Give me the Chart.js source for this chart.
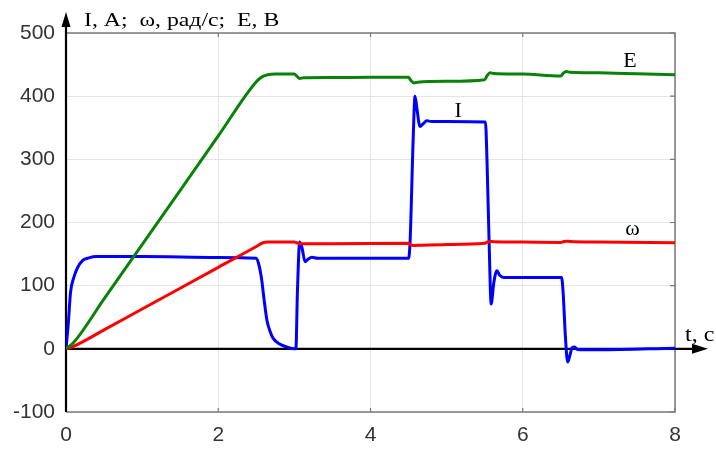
<!DOCTYPE html>
<html>
<head>
<meta charset="utf-8">
<script src="https://cdn.jsdelivr.net/npm/chart.js@4.4.1/dist/chart.umd.min.js"></script>
<style>
  body { margin: 0; background: #fff; }
  canvas { display: block; }
</style>
</head>
<body>
<canvas id="chart" width="716" height="449"></canvas>
<script>
// time values (s) and series
const tCurrent = [0, 0.03, 0.06, 0.1, 0.15, 0.22, 0.3, 0.4, 1.0, 2.0, 2.5, 2.53, 2.57, 2.6, 2.64, 2.68, 2.72, 2.8, 2.9, 3.0, 3.02,
    3.04, 3.07, 3.1, 3.14, 3.18, 3.23, 3.3, 4.0, 4.5, 4.52, 4.56, 4.585, 4.61, 4.65, 4.69, 4.74, 4.8, 5.0, 5.51,
    5.53, 5.56, 5.585, 5.62, 5.66, 5.7, 5.75, 6.0, 6.51, 6.53, 6.56, 6.59, 6.62, 6.65, 6.68, 6.72, 6.8, 7.0, 8.0];
const current = [0, 40, 90, 112, 128, 140, 144, 146, 146, 144.5, 143.5, 135, 110, 80, 45, 28, 17, 8, 3, 0, 0,
    90, 169, 160, 138, 142, 145, 143.5, 143.5, 143.5, 170, 330, 400, 380, 352, 356, 361, 360, 360, 359,
    300, 160, 71, 105, 123.5, 116, 113, 113, 113, 90, 20, -21, -10, 2, 3, -1, -1.5, -1.5, 1];

const tSpeed = [0, 0.1, 0.5, 1.0, 1.5, 2.0, 2.5, 2.58, 2.65, 3.0, 3.03, 3.07, 3.5, 4.5, 4.53, 4.57, 4.62, 5.0, 5.5, 5.53, 5.57, 5.62,
    6.0, 6.5, 6.53, 6.57, 6.62, 7.0, 8.0];
const speed = [0, 4, 30, 63, 96, 129, 162, 167.5, 169, 169, 168, 166.5, 166.5, 167, 165, 163.5, 164, 165, 167, 169, 170, 169.5,
    169, 168.5, 169.5, 170.5, 170, 169, 168];

const tEmf = [0, 0.1, 0.5, 1.0, 1.5, 2.0, 2.5, 2.58, 2.65, 2.75, 3.0, 3.03, 3.07, 3.12, 3.5, 4.0, 4.5, 4.53, 4.57, 4.62, 5.0, 5.5,
    5.53, 5.57, 5.62, 6.0, 6.5, 6.53, 6.57, 6.62, 7.0, 7.5, 8.0];
const emf = [0, 10, 79, 165, 251, 337, 423, 431, 434, 435, 435, 432, 428, 429, 429.5, 430, 430, 425, 421, 422, 423.5, 426,
    432, 437, 436, 435, 432, 436, 439, 438, 437, 435.5, 434];

const xTicks = [0, 2, 4, 6, 8];
const yTicks = [-100, 0, 100, 200, 300, 400, 500];

const axisTitle = 'I, А;  ω, рад/с;  E, В';
const timeTitle = 't, c';
// series name, label position in data units
const seriesLabels = [
    { text: 'E', x: 7.41, y: 446 },
    { text: 'I', x: 5.15, y: 367 },
    { text: 'ω', x: 7.44, y: 181 },
];

const toPoints = (ts, vs) => ts.map((t, i) => ({ x: t, y: vs[i] }));

const serif = '"Liberation Serif", "Times New Roman", serif';
const sans = '"Liberation Sans", Arial, sans-serif';

function stretchedText(ctx, text, x, y, sx) {
    ctx.save();
    ctx.translate(x, y);
    ctx.scale(sx, 1);
    ctx.fillText(text, 0, 0);
    ctx.restore();
}

const framePlugin = {
    id: 'frame',
    beforeDatasetsDraw(chart) {
        const { ctx, chartArea: a, scales } = chart;
        const xs = scales.x, ys = scales.y;
        ctx.save();
        // grey frame on top, right and bottom
        ctx.strokeStyle = '#7a7a7a';
        ctx.lineWidth = 1.5;
        ctx.beginPath();
        ctx.moveTo(a.left, a.top);
        ctx.lineTo(a.right, a.top);
        ctx.lineTo(a.right, a.bottom);
        ctx.lineTo(a.left, a.bottom);
        ctx.stroke();
        // inner tick marks
        ctx.lineWidth = 1.2;
        ctx.beginPath();
        xTicks.forEach(v => {
            if (v === 0) return;
            const px = xs.getPixelForValue(v);
            ctx.moveTo(px, a.bottom); ctx.lineTo(px, a.bottom - 4);
            ctx.moveTo(px, a.top); ctx.lineTo(px, a.top + 4);
        });
        yTicks.forEach(v => {
            const py = ys.getPixelForValue(v);
            ctx.moveTo(a.right, py); ctx.lineTo(a.right - 5, py);
        });
        ctx.stroke();

        // black axes with arrows
        ctx.strokeStyle = '#000';
        ctx.fillStyle = '#000';
        ctx.lineWidth = 2.2;
        const y0 = ys.getPixelForValue(0);
        ctx.beginPath();
        ctx.moveTo(a.left, a.bottom);
        ctx.lineTo(a.left, 22);
        ctx.moveTo(a.left, y0);
        ctx.lineTo(696, y0);
        ctx.stroke();
        ctx.beginPath();
        ctx.moveTo(a.left, 12);
        ctx.lineTo(a.left - 4.5, 27);
        ctx.lineTo(a.left + 4.5, 27);
        ctx.closePath();
        ctx.fill();
        ctx.beginPath();
        ctx.moveTo(708, y0);
        ctx.lineTo(692, y0 - 5);
        ctx.lineTo(692, y0 + 5);
        ctx.closePath();
        ctx.fill();
        ctx.restore();
    },
    afterDatasetsDraw(chart) {
        const { ctx, scales } = chart;
        ctx.save();
        ctx.fillStyle = '#000';
        ctx.textBaseline = 'alphabetic';
        ctx.textAlign = 'left';
        ctx.font = '19px ' + serif;
        stretchedText(ctx, axisTitle, 84, 26, 1.25);
        ctx.font = '20px ' + serif;
        stretchedText(ctx, timeTitle, 685, 341, 1.2);
        ctx.textAlign = 'center';
        ctx.font = '22px ' + serif;
        seriesLabels.forEach(l => {
            ctx.fillText(l.text, scales.x.getPixelForValue(l.x), scales.y.getPixelForValue(l.y));
        });
        ctx.restore();
    }
};

const lineStyle = {
    showLine: true,
    pointRadius: 0,
    borderWidth: 3,
    cubicInterpolationMode: 'monotone',
};

new Chart(document.getElementById('chart'), {
    type: 'scatter',
    data: {
        datasets: [
            { label: 'E', data: toPoints(tEmf, emf), borderColor: '#0a820a', ...lineStyle },
            { label: 'ω', data: toPoints(tSpeed, speed), borderColor: '#ff0000', ...lineStyle },
            { label: 'I', data: toPoints(tCurrent, current), borderColor: '#0000ff', ...lineStyle },
        ],
    },
    options: {
        responsive: false,
        animation: false,
        events: [],
        layout: { padding: { top: 33, right: 41, left: 0, bottom: 0 } },
        plugins: {
            legend: { display: false },
            tooltip: { enabled: false },
        },
        scales: {
            x: {
                type: 'linear',
                min: 0,
                max: 8,
                afterBuildTicks: (s) => { s.ticks = xTicks.map(v => ({ value: v })); },
                afterFit: (s) => { s.height = 37; },
                grid: { color: '#e4e4e4', lineWidth: 1, drawTicks: false },
                border: { display: false },
                ticks: { color: '#333', padding: 11, font: { family: sans, size: 21 } },
            },
            y: {
                type: 'linear',
                min: -100,
                max: 500,
                afterBuildTicks: (s) => { s.ticks = yTicks.map(v => ({ value: v })); },
                afterFit: (s) => { s.width = 66; },
                grid: { color: '#e4e4e4', lineWidth: 1, drawTicks: false },
                border: { display: false },
                ticks: { color: '#333', padding: 11, font: { family: sans, size: 21 } },
            },
        },
    },
    plugins: [framePlugin],
});
</script>
</body>
</html>
